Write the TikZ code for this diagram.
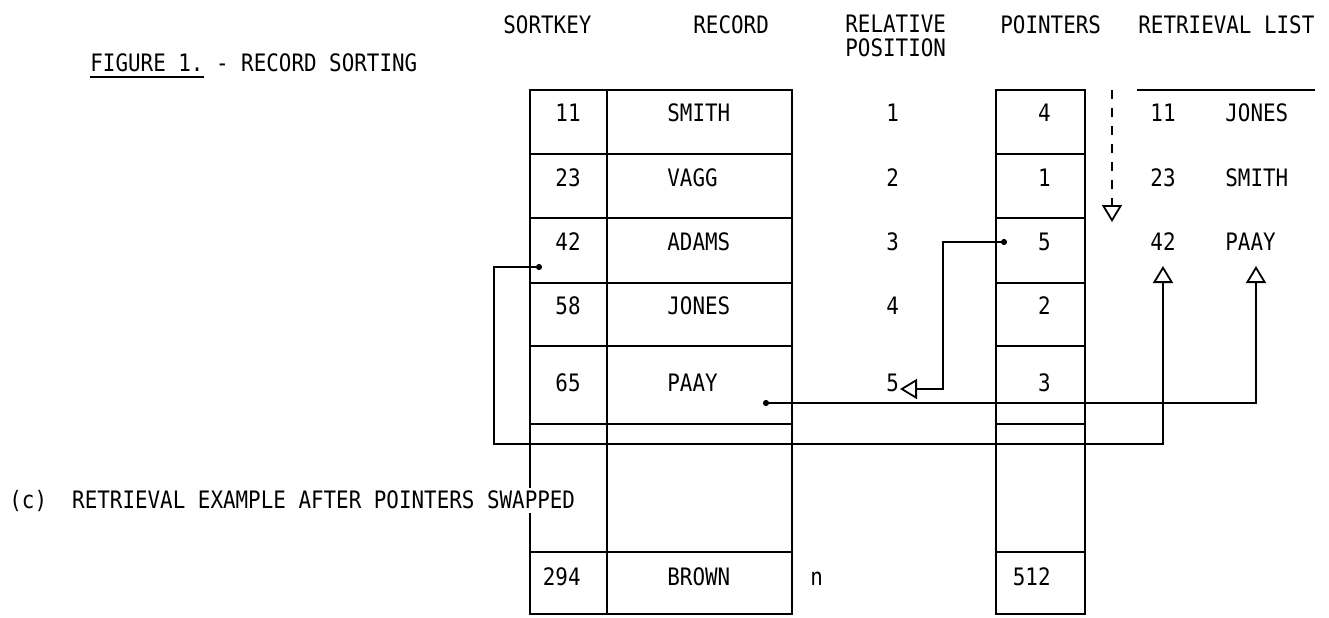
\documentclass[tikz,border=0pt]{standalone}
\usepackage{fontspec}
\setmonofont[FakeStretch=0.87]{DejaVu Sans Mono}
\usetikzlibrary{arrows.meta}
\begin{document}
\begin{tikzpicture}[x=0.5pt,y=-0.5pt,
  t/.style={font=\ttfamily\fontsize{12}{13}\selectfont,inner sep=0pt},
  tl/.style={t,anchor=base west},
  tr/.style={t,anchor=base east},
  tight/.style={text height=8.6pt,text depth=0pt},
  grid/.style={line width=1.1pt},
  conn/.style={line width=1pt},
  dotarrow/.style={arrows={Circle[length=3pt]-Triangle[open,length=8.5pt,width=10pt,line width=0.9pt]}},
  tiparrow/.style={arrows={-Triangle[open,length=8.5pt,width=10pt,line width=0.9pt]}}
]
\useasboundingbox (0,0) rectangle (1329,617);

% tables
\draw[grid] (530,90) rectangle (792,614);
\draw[grid] (607,90) -- (607,614);
\foreach \y in {154,218,283,346,424,552} \draw[grid] (530,\y) -- (792,\y);
\draw[grid] (996,90) rectangle (1085,614);
\foreach \y in {154,218,283,346,424,552} \draw[grid] (996,\y) -- (1085,\y);
\draw[grid] (1137,90) -- (1315,90);

% headers
\node[tl] (hSort) at (503,33) {SORTKEY};
\node[tl] (hRec) at (693,33) {RECORD};
\node[tl,tight] (hRel) at (845,32) {RELATIVE};
\node[tl,tight] (hPos) at (845,56) {POSITION};
\node[tl] (hPtr) at (1000,33) {POINTERS};
\node[tl] (hRet) at (1138,33) {RETRIEVAL LIST};
\node[tl] (fig) at (90,71) {FIGURE 1.\ -\ RECORD SORTING};
\draw[line width=0.8pt] ([yshift=-3pt]fig.base west) -- ++(114,0);

% rows
\foreach \y/\k/\r/\p/\q/\i in {121/11/SMITH/1/4/1,186/23/VAGG/2/1/2,250/42/ADAMS/3/5/3,314/58/JONES/4/2/4,391/65/PAAY/5/3/5}{
  \node[tr] (k\i) at (581,\y) {\k};
  \node[tl] (r\i) at (667,\y) {\r};
  \node[tl] (p\i) at (886,\y) {\p};
  \node[tr] (q\i) at (1051,\y) {\q};
}
\node[tr] (k6) at (581,585) {294};
\node[tl] (r6) at (667,585) {BROWN};
\node[tl] (p6) at (810,585) {n};
\node[tr] (q6) at (1051,585) {512};

% retrieval list
\node[tr] (l1) at (1176,121) {11};
\node[tl] (m1) at (1225,121) {JONES};
\node[tr] (l2) at (1176,186) {23};
\node[tl] (m2) at (1225,186) {SMITH};
\node[tr] (l3) at (1176,250) {42};
\node[tl] (m3) at (1225,250) {PAAY};

% connectors
\coordinate (dA) at (1007,242);
\coordinate (bA) at (943,389);
\coordinate (tA) at (900,389);
\draw[conn,dotarrow] (dA) -| (bA) -- (tA);

\coordinate (dB) at (763,403);
\coordinate (tB) at (1256,266);
\draw[conn,dotarrow] (dB) -| (tB);

\coordinate (dC) at (542,267);
\coordinate (cC1) at (494,267);
\coordinate (cC2) at (494,444);
\coordinate (tC) at (1163,266);
\draw[conn,dotarrow] (dC) -- (cC1) -- (cC2) -| (tC);

\coordinate (dD) at (1112,90);
\coordinate (tD) at (1112,222);
\draw[conn,tiparrow,dash pattern=on 4.5pt off 4.5pt] (dD) -- (tD);

% caption
\node[tl,fill=white,inner sep=1pt] (cap) at (7,508) {(c)\ \ RETRIEVAL EXAMPLE AFTER POINTERS SWAPPED};
\end{tikzpicture}
\end{document}
